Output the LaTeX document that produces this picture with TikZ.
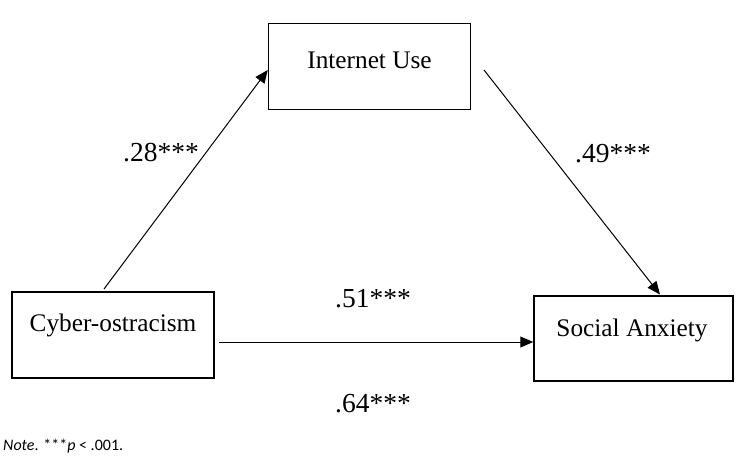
\documentclass[tikz,border=0pt]{standalone}
\usepackage{fontspec}
\setmainfont{Liberation Serif}
\newfontfamily\notefont{Carlito}
\usetikzlibrary{arrows.meta}
\begin{document}
\begin{tikzpicture}[x=1pt,y=-1pt,
  varbox/.style={draw,line width=1.5pt,minimum width=#1,inner sep=0pt},
  vtext/.style={font=\fontsize{25.3}{30}\selectfont,inner sep=0pt},
  lbl/.style={font=\fontsize{27.5}{32}\selectfont,inner sep=0pt},
  path/.style={line width=1pt,-{Triangle[length=13pt,width=11pt]}}]
\useasboundingbox (0,0) rectangle (744,472);
\node[varbox=202pt,minimum height=86pt] (iu) at (369.5,66.5) {};
\node[vtext] (iut) at (369.5,60) {Internet Use};
\node[varbox=202pt,minimum height=86pt] (co) at (113,335) {};
\node[vtext] (cot) at (113,325) {Cyber-ostracism};
\node[varbox=199pt,minimum height=85pt] (sa) at (633.5,338.5) {};
\node[vtext] (sat) at (632,330) {Social Anxiety};
\coordinate (a1s) at (104,289);
\coordinate (a2s) at (484,70);
\coordinate (a3s) at (219,342);
\draw[path] (a1s) -- (iu.west |- 0,70) ;
\draw[path] (a2s) -- (660,294.5);
\draw[path] (a3s) -- (sa.west |- 0,342);
\node[lbl] (l1) at (161,153) {.28***};
\node[lbl] (l2) at (613,154) {.49***};
\node[lbl] (l3) at (373,299) {.51***};
\node[lbl] (l4) at (373,404) {.64***};
\node[anchor=west,inner sep=0pt,font=\notefont\fontsize{16}{18}\selectfont] (note) at (3,446) {\textit{Note}. ***\textit{p} < .001.};
\end{tikzpicture}
\end{document}
